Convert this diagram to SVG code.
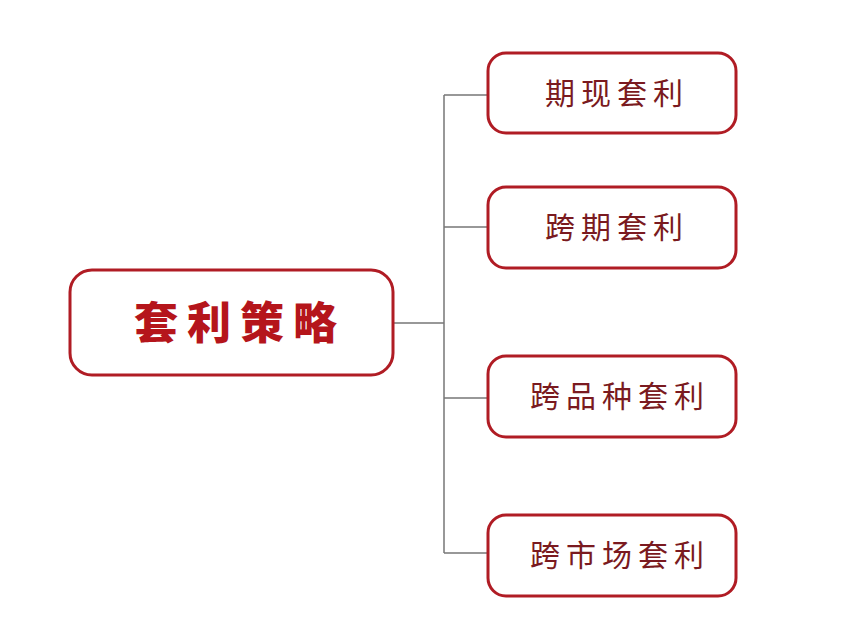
<svg xmlns="http://www.w3.org/2000/svg" width="865" height="631" viewBox="0 0 865 631">
<style>
.b{fill:#fff;stroke:#b01c24;stroke-width:3}
.c{fill:none;stroke:#777;stroke-width:1.5}
.t{font-family:"Noto Sans CJK SC",sans-serif;font-size:30px;fill:#7a1a20;text-anchor:middle;letter-spacing:6px}
.m{font-family:"Noto Sans CJK SC",sans-serif;font-size:44px;font-weight:900;fill:#b5151b;text-anchor:middle;letter-spacing:9px}
</style>
<rect width="865" height="631" fill="#fff"/>
<g id="connectors">
<path class="c" d="M393 323H444M444 95V553M444 95H488M444 227H488M444 398H488M444 553H488"/>
</g>
<g id="main"><rect class="b" x="70" y="270" width="323" height="105" rx="22"/><text class="m" x="240" y="339">套利策略</text></g>
<g id="n1"><rect class="b" x="488" y="53" width="248" height="80" rx="18"/><text class="t" x="617" y="104">期现套利</text></g>
<g id="n2"><rect class="b" x="488" y="187" width="248" height="81" rx="18"/><text class="t" x="617" y="238">跨期套利</text></g>
<g id="n3"><rect class="b" x="488" y="356" width="248" height="81" rx="18"/><text class="t" x="620" y="407">跨品种套利</text></g>
<g id="n4"><rect class="b" x="488" y="515" width="248" height="81" rx="18"/><text class="t" x="620" y="566">跨市场套利</text></g>
</svg>
